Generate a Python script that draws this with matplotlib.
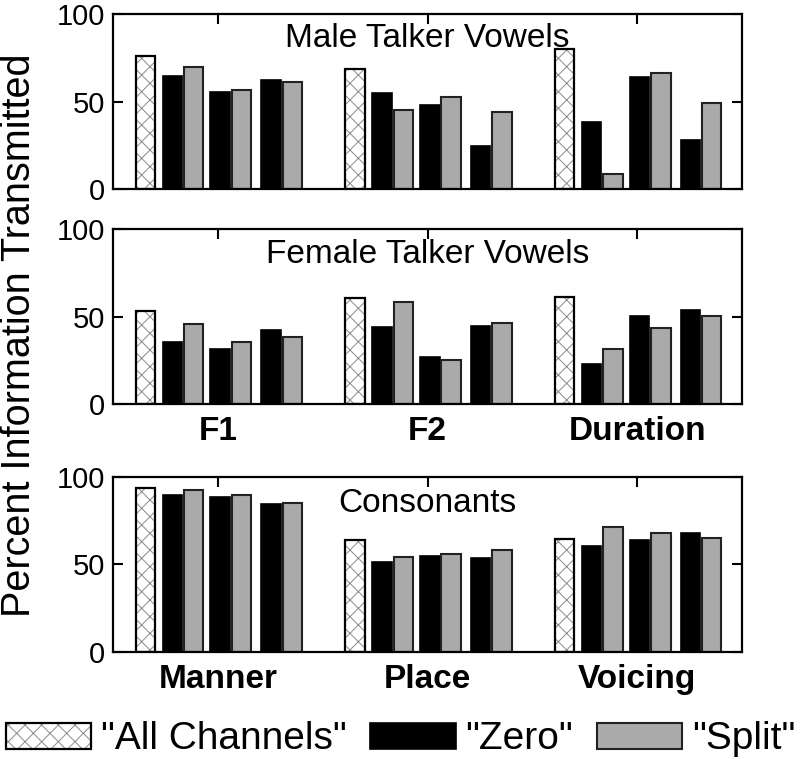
import matplotlib
matplotlib.use('Agg')
import matplotlib.pyplot as plt
from matplotlib.patches import Patch
from matplotlib.legend_handler import HandlerTuple

plt.rcParams['font.family'] = ['Liberation Sans', 'DejaVu Sans']
plt.rcParams['hatch.linewidth'] = 0.7
plt.rcParams['hatch.color'] = '#8a8a8a'

# categories per panel
vowelCats = ['F1', 'F2', 'Duration']
consCats = ['Manner', 'Place', 'Voicing']

# male talker vowels
maleAll = [76, 69, 80]
maleZero = [[65, 55.5, 62.5], [55, 48.5, 24.5], [38.5, 64, 28]]
maleSplit = [[70, 57, 61.5], [45.5, 53, 44.5], [9, 66.5, 49.5]]

# female talker vowels
femaleAll = [53, 60.5, 61]
femaleZero = [[35.5, 31.5, 42.5], [44, 27, 44.5], [22.5, 50.5, 53.5]]
femaleSplit = [[45.5, 35.5, 38], [58.5, 25, 46.5], [31.5, 43.5, 50.5]]

# consonants
consAll = [93.5, 64, 64.5]
consZero = [[89.5, 88.5, 84.5], [51.5, 55, 53.5], [60.5, 64, 68]]
consSplit = [[92.5, 89.5, 85], [54, 56, 58], [71, 68, 65]]

panelTitles = ['Male Talker Vowels', 'Female Talker Vowels', 'Consonants']
legendLabels = ['"All Channels"', '"Zero"', '"Split"']

grisBarra = '#aaaaaa'
ancho = 0.093
posTodos = -0.346
posPares = [-0.166, 0.062, 0.304]
sep = 0.051

fig = plt.figure(figsize=(8.01, 7.59), dpi=100)
ejes = [
    fig.add_axes([0.1411, 0.7506, 0.7853, 0.2303]),
    fig.add_axes([0.1411, 0.4681, 0.7853, 0.2298]),
    fig.add_axes([0.1411, 0.1410, 0.7853, 0.2310]),
]
datos = [
    (maleAll, maleZero, maleSplit, vowelCats, False, 0.812),
    (femaleAll, femaleZero, femaleSplit, vowelCats, True, 0.805),
    (consAll, consZero, consSplit, consCats, True, 0.80),
]

for ax, (todos, cero, divid, cats, conEtiq, ytit), titulo in zip(ejes, datos, panelTitles):
    for g in range(3):
        # hatched bar: gray hatch, black outline drawn separately
        ax.bar(g + posTodos, todos[g], ancho, color='white', edgecolor='#8a8a8a',
               hatch='xx', linewidth=0, zorder=2)
        ax.bar(g + posTodos, todos[g], ancho, fill=False, edgecolor='black',
               linewidth=1.6, zorder=3)
        for p in range(3):
            ax.bar(g + posPares[p] - sep, cero[g][p], ancho, color='black',
                   edgecolor='black', linewidth=1.2, zorder=2)
            ax.bar(g + posPares[p] + sep, divid[g][p], ancho, color=grisBarra,
                   edgecolor='#222222', linewidth=1.5, zorder=2)
    ax.set_xlim(-0.5, 2.5)
    ax.set_ylim(0, 100)
    ax.set_yticks([0, 50, 100])
    ax.set_xticks(range(3))
    if conEtiq:
        ax.set_xticklabels(cats, fontsize=24, fontweight='bold')
    else:
        ax.set_xticklabels([])
    ax.tick_params(axis='x', top=True, bottom=False, direction='in',
                   length=7, width=1.5, pad=9)
    ax.tick_params(axis='y', left=True, right=True, direction='in',
                   length=7, width=1.5, labelsize=21, pad=6)
    for s in ax.spines.values():
        s.set_linewidth(1.6)
    ax.text(0.5, ytit, titulo, transform=ax.transAxes, ha='center',
            va='baseline', fontsize=24)

fig.text(0.0, 0.558, 'Percent Information Transmitted', rotation=90,
         ha='left', va='center', fontsize=28.5)

manejadores = [
    (Patch(facecolor='white', edgecolor='#8a8a8a', hatch='xx', linewidth=0),
     Patch(facecolor='none', edgecolor='black', linewidth=1.6)),
    Patch(facecolor='black', edgecolor='black', linewidth=1.2),
    Patch(facecolor=grisBarra, edgecolor='#222222', linewidth=1.5),
]
fig.legend(manejadores, legendLabels, loc='lower center', bbox_to_anchor=(0.5, 0.002),
           ncol=3, frameon=False, fontsize=28, handlelength=2.2, handleheight=0.63,
           handletextpad=0.25, columnspacing=0.6, borderaxespad=0.0, borderpad=0.0,
           handler_map={tuple: HandlerTuple(ndivide=1, pad=0)})

fig.savefig('out.png', dpi=100)
